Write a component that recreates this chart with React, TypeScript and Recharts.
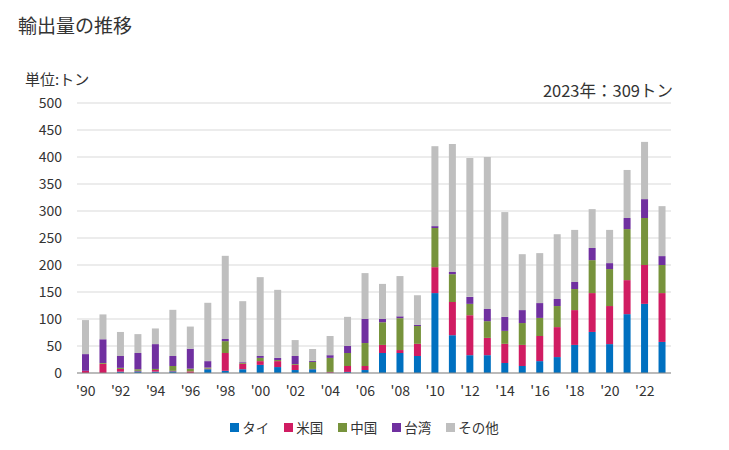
import React from "react";
import { BarChart, Bar, XAxis, YAxis, CartesianGrid } from "recharts";

const years = [
  1990, 1991, 1992, 1993, 1994, 1995, 1996, 1997, 1998, 1999,
  2000, 2001, 2002, 2003, 2004, 2005, 2006, 2007, 2008, 2009,
  2010, 2011, 2012, 2013, 2014, 2015, 2016, 2017, 2018, 2019,
  2020, 2021, 2022, 2023,
];

const thai = [
  0, 0, 2.5, 3, 2.5, 3, 0, 7, 4, 7,
  15, 11, 5.5, 7, 0.5, 2, 5.5, 37, 37, 31.5,
  148, 70, 33, 33, 18.5, 13, 22, 29.5, 52, 76,
  53.5, 109, 128, 57.5,
];
const usa = [
  4, 17, 5, 1, 3, 1, 3, 1, 33, 10,
  7, 11, 9.5, 0.5, 1.5, 11, 7.5, 15, 5.5, 22.5,
  48, 61.5, 74, 32, 35.5, 39, 46.5, 55.5, 64.5, 72,
  70.5, 63, 72, 90.5,
];
const china = [
  0, 1.5, 2, 3, 2, 9, 5, 2, 22, 1.5,
  6, 2, 1.5, 13, 26, 24, 42.5, 42, 59, 33,
  72.5, 51.5, 21, 31, 24, 40.5, 33.5, 39, 39, 61,
  68.5, 94.5, 87, 52,
];
const taiwan = [
  31, 44, 22, 30, 46, 18.5, 37, 12, 4, 1.5,
  3.5, 4, 15, 2, 5, 13, 44.5, 6, 3.5, 2,
  3.5, 4, 13, 22.5, 26, 24, 27.5, 13, 13, 22.5,
  11, 20.5, 35, 16.5,
];
const others = [
  63, 46, 44.5, 35, 29, 85.5, 41, 108, 154, 113,
  146, 126, 29.5, 22, 35.5, 54, 85, 65, 74.5, 55,
  148, 237, 257, 281.5, 194, 103.5, 92.5, 120, 96.5, 72,
  61.5, 89, 106, 92.5,
];

const yTicks = [0, 50, 100, 150, 200, 250, 300, 350, 400, 450, 500];

const series = [
  { key: "thai", name: "タイ", color: "#0070C0" },
  { key: "usa", name: "米国", color: "#D01C62" },
  { key: "china", name: "中国", color: "#77933C" },
  { key: "taiwan", name: "台湾", color: "#7030A0" },
  { key: "others", name: "その他", color: "#BFBFBF" },
];

const data = years.map((y, i) => ({
  year: y,
  thai: thai[i],
  usa: usa[i],
  china: china[i],
  taiwan: taiwan[i],
  others: others[i],
}));

const font = "'Noto Sans CJK JP', 'Noto Sans', sans-serif";

const yearLabel = (y: number) => (y % 2 === 0 ? `'${String(y).slice(2)}` : "");

export default function App() {
  return (
    <div
      style={{
        position: "absolute",
        left: 0,
        top: 0,
        width: 729,
        height: 450,
        background: "#fff",
        fontFamily: font,
        color: "#333",
      }}
    >
      <div style={{ position: "absolute", left: 18, top: 11, fontSize: 19 }}>輸出量の推移</div>
      <div style={{ position: "absolute", left: 25, top: 68, fontSize: 15 }}>単位:トン</div>
      <div style={{ position: "absolute", right: 56, top: 78, fontSize: 16.5 }}>2023年：309トン</div>

      <BarChart
        width={729}
        height={450}
        data={data}
        margin={{ top: 103, right: 58, bottom: 47, left: 17 }}
        barCategoryGap={0}
        style={{ position: "absolute", left: 0, top: 0 }}
      >
        <CartesianGrid vertical={false} stroke="#d9d9d9" strokeWidth={1} />
        <XAxis
          dataKey="year"
          interval={0}
          tickFormatter={yearLabel}
          tickLine={false}
          axisLine={{ stroke: "#898989" }}
          tick={{ fill: "#333", fontSize: 14, fontFamily: font }}
          height={30}
          tickMargin={7}
        />
        <YAxis
          domain={[0, 500]}
          ticks={yTicks}
          interval={0}
          axisLine={false}
          tickLine={false}
          width={60}
          tick={{ fill: "#333", fontSize: 14, fontFamily: font }}
          tickMargin={9}
        />
        {series.map((s) => (
          <Bar
            key={s.key}
            dataKey={s.key}
            name={s.name}
            stackId="a"
            fill={s.color}
            barSize={7}
            isAnimationActive={false}
          />
        ))}
      </BarChart>

      <div
        style={{
          position: "absolute",
          left: 0,
          top: 417,
          width: 729,
          display: "flex",
          justifyContent: "center",
          gap: 15,
          fontSize: 13.5,
          lineHeight: "20px",
        }}
      >
        {series.map((s) => (
          <div key={s.key} style={{ display: "flex", alignItems: "center", gap: 3 }}>
            <span style={{ width: 9, height: 9, background: s.color, display: "inline-block" }} />
            <span>{s.name}</span>
          </div>
        ))}
      </div>
    </div>
  );
}
